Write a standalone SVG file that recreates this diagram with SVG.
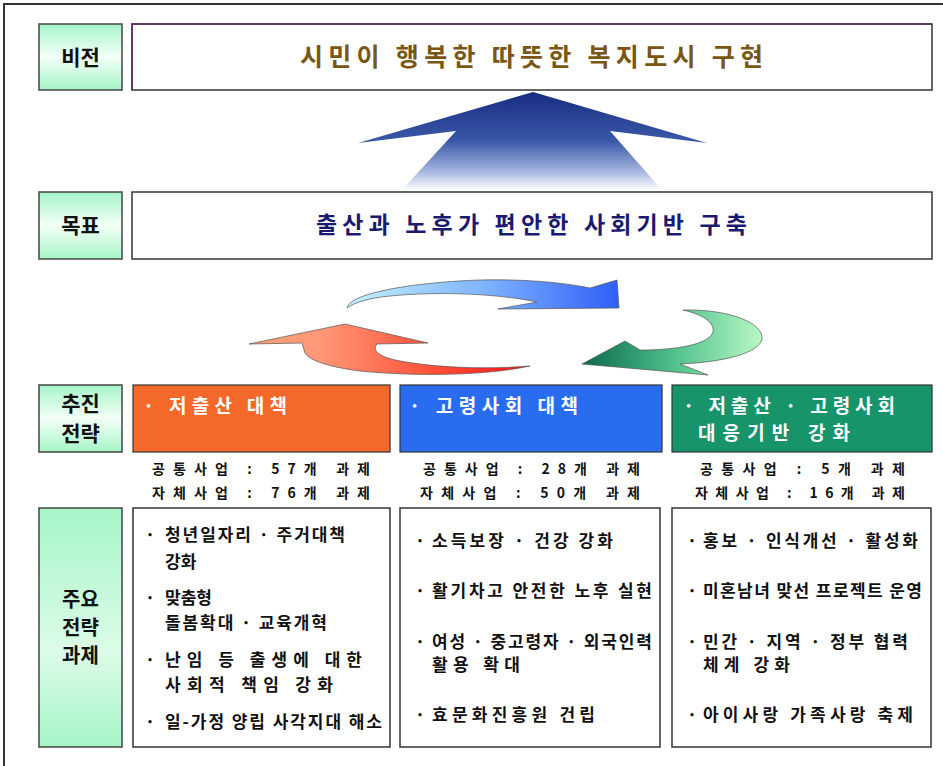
<svg xmlns="http://www.w3.org/2000/svg" width="943" height="766" viewBox="0 0 943 766">
<style>
text{font-family:'Noto Sans CJK KR','Noto Sans',sans-serif;font-weight:700}
.lbl{font-size:21px;fill:#111;text-anchor:middle}
.lbl2{font-size:20px;fill:#111;text-anchor:middle}
.lab{stroke:#444;stroke-width:1.5}
.box{fill:#fff;stroke:#333;stroke-width:1.5}
.li{font-size:17px;fill:#111}
.bul{font-size:17px;fill:#111}
.sub{font-size:14px;fill:#111}
.st{font-size:19px;fill:#fff}
.arr{stroke:#555;stroke-width:0.7}
</style>
<defs>
<linearGradient id="mint" x1="0" y1="0" x2="0" y2="1">
<stop offset="0" stop-color="#a6f5c8"/><stop offset="0.5" stop-color="#f4fff8"/><stop offset="1" stop-color="#a6f5c8"/>
</linearGradient>
<linearGradient id="mint2" x1="0" y1="0" x2="0" y2="1">
<stop offset="0" stop-color="#a6f5c8"/><stop offset="0.6" stop-color="#dcfce8"/><stop offset="1" stop-color="#a6f5c8"/>
</linearGradient>
<linearGradient id="gUp" x1="0" y1="92" x2="0" y2="190" gradientUnits="userSpaceOnUse">
<stop offset="0" stop-color="#182c80"/><stop offset="0.5" stop-color="#3a58a8"/><stop offset="0.82" stop-color="#a8b8e0"/><stop offset="1" stop-color="#ffffff"/>
</linearGradient>
<linearGradient id="gBlue" x1="346" y1="0" x2="619" y2="0" gradientUnits="userSpaceOnUse">
<stop offset="0" stop-color="#c4f2ff"/><stop offset="0.5" stop-color="#80b4ff"/><stop offset="1" stop-color="#2f5ef8"/>
</linearGradient>
<linearGradient id="gGreen" x1="582" y1="0" x2="762" y2="0" gradientUnits="userSpaceOnUse">
<stop offset="0" stop-color="#0b6a4c"/><stop offset="0.5" stop-color="#4ebf8c"/><stop offset="1" stop-color="#b8f8c4"/>
</linearGradient>
<linearGradient id="gRed" x1="249" y1="0" x2="530" y2="0" gradientUnits="userSpaceOnUse">
<stop offset="0" stop-color="#ffa078"/><stop offset="0.25" stop-color="#ff9878"/><stop offset="0.6" stop-color="#ff5a40"/><stop offset="1" stop-color="#ff1010"/>
</linearGradient>
</defs>
<rect width="943" height="766" fill="#fff"/>
<path d="M4,766 V4 H943" fill="none" stroke="#333" stroke-width="2"/>

<g id="connectors">
<path d="M533,92 L707,143 L610,131 L662,190 L402,190 L456,131 L358,143 Z" fill="url(#gUp)"/>
<path class="arr" d="M347,308 C350,292 420,282 480,280 C530,279 565,283 590,288 L617,280 L619,308 L498,309 L537,302 C500,294 440,291 390,296 C370,298 355,302 347,308 Z" fill="url(#gBlue)"/>
<path class="arr" d="M683,310 C732,309 764,324 762,339 C759,353 725,362 680,364 L708,375 L582,364 L625,341 L640,350 C685,350 716,342 713,328 C711,320 700,314 683,310 Z" fill="url(#gGreen)"/>
<path class="arr" d="M345,324 L428,343 L377,344 C372,350 378,356 395,360 C430,367 480,370 530,366 C490,375 420,377 360,371 C330,367 310,361 305,353 L302,343 L249,344 Z" fill="url(#gRed)"/>
</g>

<g id="vision-label">
<rect class="lab" x="39" y="24" width="83" height="66" fill="url(#mint)"/>
<text class="lbl" x="80.5" y="65">비전</text>
</g>
<g id="vision">
<rect class="box" x="132" y="24" width="800" height="66"/>
<path d="M132,90 V24 H932" fill="none" stroke="#6a2a6a" stroke-width="1.5"/>
<text x="300" y="66" font-size="25" fill="#7a5614" textLength="463" lengthAdjust="spacing">시민이 행복한 따뜻한 복지도시 구현</text>
</g>

<g id="goal-label">
<rect class="lab" x="39" y="192" width="83" height="67" fill="url(#mint)"/>
<text class="lbl" x="80.5" y="233">목표</text>
</g>
<g id="goal">
<rect class="box" x="132" y="192" width="800" height="67"/>
<text x="316" y="233" font-size="23" fill="#1a1a70" textLength="431" lengthAdjust="spacing">출산과 노후가 편안한 사회기반 구축</text>
</g>

<g id="strategy-label">
<rect class="lab" x="39" y="385" width="83" height="67" fill="url(#mint)"/>
<text class="lbl" x="80.5" y="411">추진</text>
<text class="lbl" x="80.5" y="441">전략</text>
</g>
<g id="strategy-1">
<rect x="133" y="385" width="257" height="67" fill="#f4692a" stroke="#333" stroke-width="1.2"/>
<text class="st" x="143" y="413" textLength="144" lengthAdjust="spacing">· 저출산 대책</text>
<text class="sub" x="152" y="474" textLength="218" lengthAdjust="spacing">공통사업 : 57개 과제</text>
<text class="sub" x="152" y="498" textLength="218" lengthAdjust="spacing">자체사업 : 76개 과제</text>
</g>
<g id="strategy-2">
<rect x="400" y="385" width="262" height="67" fill="#2a6cf0" stroke="#333" stroke-width="1.2"/>
<text class="st" x="409" y="413" textLength="169" lengthAdjust="spacing">· 고령사회 대책</text>
<text class="sub" x="423" y="474" textLength="217" lengthAdjust="spacing">공통사업 : 28개 과제</text>
<text class="sub" x="420" y="498" textLength="220" lengthAdjust="spacing">자체사업 : 50개 과제</text>
</g>
<g id="strategy-3">
<rect x="672" y="385" width="260" height="67" fill="#17946a" stroke="#333" stroke-width="1.2"/>
<text class="st" x="683" y="413" textLength="212" lengthAdjust="spacing">· 저출산 · 고령사회</text>
<text class="st" x="698" y="440" textLength="152" lengthAdjust="spacing">대응기반 강화</text>
<text class="sub" x="700" y="474" textLength="205" lengthAdjust="spacing">공통사업 : 5개 과제</text>
<text class="sub" x="695" y="498" textLength="210" lengthAdjust="spacing">자체사업 : 16개 과제</text>
</g>

<g id="tasks-label">
<rect class="lab" x="39" y="508" width="83" height="239" fill="url(#mint2)"/>
<text class="lbl2" x="80.5" y="607">주요</text>
<text class="lbl2" x="80.5" y="635">전략</text>
<text class="lbl2" x="80.5" y="663">과제</text>
</g>
<g id="tasks-1">
<rect class="box" x="133" y="508" width="257" height="239"/>
<text class="bul" x="145" y="541">·</text>
<text class="li" x="165" y="541" textLength="180" lengthAdjust="spacing">청년일자리 · 주거대책</text>
<text class="li" x="165" y="568">강화</text>
<text class="bul" x="145" y="604">·</text>
<text class="li" x="165" y="604">맞춤형</text>
<text class="li" x="165" y="629" textLength="162" lengthAdjust="spacing">돌봄확대 · 교육개혁</text>
<text class="bul" x="145" y="666">·</text>
<text class="li" x="165" y="666" textLength="197" lengthAdjust="spacing">난임 등 출생에 대한</text>
<text class="li" x="165" y="691" textLength="168" lengthAdjust="spacing">사회적 책임 강화</text>
<text class="bul" x="145" y="728">·</text>
<text class="li" x="165" y="728" textLength="217" lengthAdjust="spacing">일-가정 양립 사각지대 해소</text>
</g>
<g id="tasks-2">
<rect class="box" x="400" y="508" width="260" height="239"/>
<text class="bul" x="415" y="547">·</text>
<text class="li" x="432" y="547" textLength="181" lengthAdjust="spacing">소득보장 · 건강 강화</text>
<text class="bul" x="415" y="597">·</text>
<text class="li" x="432" y="597" textLength="220" lengthAdjust="spacing">활기차고 안전한 노후 실현</text>
<text class="bul" x="415" y="648">·</text>
<text class="li" x="432" y="648" textLength="220" lengthAdjust="spacing">여성 · 중고령자 · 외국인력</text>
<text class="li" x="432" y="671" textLength="88" lengthAdjust="spacing">활용 확대</text>
<text class="bul" x="415" y="721">·</text>
<text class="li" x="432" y="721" textLength="163" lengthAdjust="spacing">효문화진흥원 건립</text>
</g>
<g id="tasks-3">
<rect class="box" x="672" y="508" width="259" height="239"/>
<text class="bul" x="687" y="547">·</text>
<text class="li" x="703" y="547" textLength="215" lengthAdjust="spacing">홍보 · 인식개선 · 활성화</text>
<text class="bul" x="687" y="597">·</text>
<text class="li" x="703" y="597" textLength="219" lengthAdjust="spacing">미혼남녀 맞선 프로젝트 운영</text>
<text class="bul" x="687" y="648">·</text>
<text class="li" x="703" y="648" textLength="205" lengthAdjust="spacing">민간 · 지역 · 정부 협력</text>
<text class="li" x="703" y="671" textLength="87" lengthAdjust="spacing">체계 강화</text>
<text class="bul" x="687" y="721">·</text>
<text class="li" x="703" y="721" textLength="210" lengthAdjust="spacing">아이사랑 가족사랑 축제</text>
</g>
</svg>
